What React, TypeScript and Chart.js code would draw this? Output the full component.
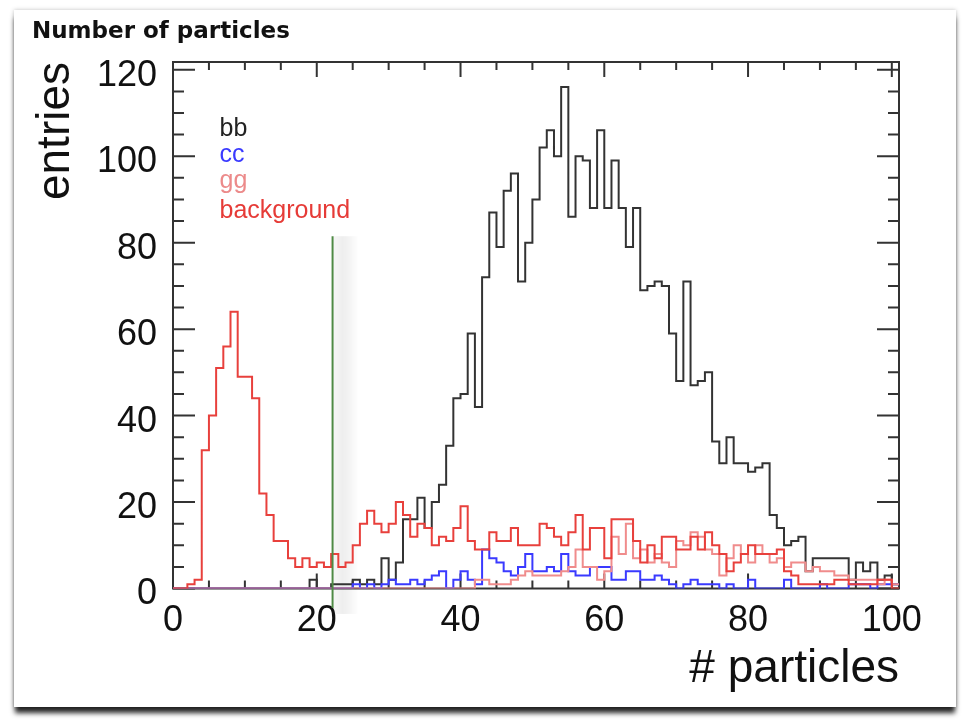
import React, { useEffect, useRef } from 'react';
import { Chart, registerables } from 'chart.js';

Chart.register(...registerables);

// ---- data (bins of width 1, low edges 0..100, axis 0..101) ----
const BIN_COUNT = 101;
const X_MIN = 0;
const X_MAX = 101;
const Y_MIN = 0;
const Y_MAX = 121.8;
const binLowEdges = Array.from({ length: BIN_COUNT }, (_, i) => X_MIN + i);

const X_TICK_LABELS = [0, 20, 40, 60, 80, 100];
const Y_TICK_LABELS = [0, 20, 40, 60, 80, 100, 120];
const MINOR_STEP = 5;

const bbValues = [
  0, 0, 0, 0, 0, 0, 0, 0, 0, 0,
  0, 0, 0, 0, 0, 0, 0, 0, 0, 2,
  0, 0, 1, 1, 1, 2, 1, 2, 1, 7,
  2, 6, 16, 16, 21, 14, 20, 24, 33, 44,
  45, 59, 42, 72, 87, 79, 92, 96, 71, 80,
  90, 102, 106, 100, 116, 86, 100, 99, 88, 106,
  88, 99, 88, 79, 88, 69, 70, 71, 70, 59,
  48, 71, 47, 48, 50, 34, 29, 35, 29, 29,
  27, 28, 29, 17, 14, 10, 11, 12, 4, 7,
  7, 7, 7, 7, 2, 6, 4, 6, 2, 3,
  1,
];

const ccValues = [
  0, 0, 0, 0, 0, 0, 0, 0, 0, 0,
  0, 0, 0, 0, 0, 0, 0, 0, 0, 0,
  0, 0, 0, 0, 0, 1, 0, 1, 0, 1,
  2, 1, 1, 2, 1, 2, 3, 4, 0, 2,
  4, 2, 1, 9, 7, 6, 4, 3, 5, 8,
  4, 4, 5, 4, 8, 4, 3, 3, 5, 5,
  5, 2, 2, 4, 4, 2, 2, 3, 2, 1,
  0, 1, 2, 1, 1, 1, 0, 1, 0, 0,
  2, 0, 0, 0, 0, 2, 0, 0, 0, 0,
  1, 0, 0, 0, 1, 1, 1, 0, 1, 1,
  1,
];

const ggValues = [
  0, 0, 0, 0, 0, 0, 0, 0, 0, 0,
  0, 0, 0, 0, 0, 0, 0, 0, 0, 0,
  0, 0, 0, 0, 0, 0, 0, 0, 0, 0,
  0, 0, 0, 0, 0, 0, 0, 0, 0, 0,
  0, 0, 2, 2, 1, 1, 1, 2, 3, 4,
  3, 3, 3, 3, 4, 5, 9, 5, 5, 2,
  4, 12, 8, 15, 7, 9, 6, 8, 6, 5,
  11, 10, 13, 12, 9, 8, 3, 7, 10, 8,
  6, 10, 8, 6, 7, 5, 6, 6, 4, 5,
  4, 4, 3, 3, 2, 2, 2, 2, 1, 2,
  1,
];

const backgroundValues = [
  0, 0, 1, 2, 32, 40, 51, 56, 64, 49,
  49, 44, 22, 17, 11, 11, 7, 5, 7, 5,
  6, 5, 8, 5, 6, 10, 15, 18, 15, 13,
  15, 20, 17, 12, 15, 14, 10, 12, 11, 14,
  19, 11, 9, 9, 13, 11, 11, 14, 10, 10,
  10, 15, 14, 12, 10, 13, 17, 9, 14, 14,
  7, 16, 16, 16, 11, 6, 10, 7, 12, 12,
  9, 9, 12, 9, 13, 10, 8, 4, 6, 8,
  10, 8, 8, 8, 9, 4, 3, 1, 1, 1,
  1, 1, 2, 2, 1, 1, 1, 1, 2, 2,
  0,
];

const cutX = 22.2;
const cutYRange = [-4.5, 81.5];

const seriesNames = ['bb', 'cc', 'gg', 'background'];
const seriesColors = ['#333333', '#3a3aff', '#f08c8c', '#e8403c'];
const legendTextColors = ['#222222', '#3a3aff', '#ec8a8a', '#e63b37'];

const SANS = '"Liberation Sans", Arial, Helvetica, sans-serif';

function histPoints(values: number[]) {
  const pts = binLowEdges.map((e, i) => ({ x: e, y: values[i] }));
  pts.push({ x: X_MAX, y: values[values.length - 1] });
  return pts;
}

const rootStylePlugin = {
  id: 'rootStyle',
  beforeDatasetsDraw(chart: any) {
    const { ctx, chartArea: a, scales } = chart;
    const xs = scales.x;
    const ys = scales.y;
    ctx.save();
    // soft shadow beside the cut line
    const gm = chart.getDatasetMeta(0);
    if (gm && gm.data && gm.data.length > 1) {
      const px = gm.data[0].x;
      const top = Math.min(gm.data[0].y, gm.data[1].y);
      const bottom = Math.max(gm.data[0].y, gm.data[1].y) + 6;
      const g = ctx.createLinearGradient(px, 0, px + 26, 0);
      g.addColorStop(0, 'rgba(0,0,0,0.03)');
      g.addColorStop(0.4, 'rgba(0,0,0,0.065)');
      g.addColorStop(0.75, 'rgba(0,0,0,0.03)');
      g.addColorStop(1, 'rgba(0,0,0,0)');
      ctx.fillStyle = g;
      ctx.fillRect(px + 1, top, 26, bottom - top);
    }
    ctx.strokeStyle = '#333333';
    ctx.lineWidth = 2;
    ctx.strokeRect(a.left, a.top, a.right - a.left, a.bottom - a.top);
    ctx.beginPath();
    for (let v = Y_TICK_LABELS[0]; v <= Y_MAX; v += MINOR_STEP) {
      const py = ys.getPixelForValue(v);
      const len = Y_TICK_LABELS.includes(v) ? 22 : 11;
      ctx.moveTo(a.left, py);
      ctx.lineTo(a.left + len, py);
      ctx.moveTo(a.right, py);
      ctx.lineTo(a.right - len, py);
    }
    for (let v = X_TICK_LABELS[0]; v <= X_MAX; v += MINOR_STEP) {
      const px = xs.getPixelForValue(v);
      const len = X_TICK_LABELS.includes(v) ? 15 : 8;
      ctx.moveTo(px, a.bottom);
      ctx.lineTo(px, a.bottom - len);
      ctx.moveTo(px, a.top);
      ctx.lineTo(px, a.top + len);
    }
    ctx.stroke();
    ctx.restore();
  },
  afterDraw(chart: any) {
    const { ctx } = chart;
    ctx.save();
    ctx.textBaseline = 'alphabetic';
    ctx.textAlign = 'left';
    ctx.fillStyle = '#111111';
    ctx.font = 'bold 23px "DejaVu Sans", sans-serif';
    ctx.fillText('Number of particles', 32, 38);
    ctx.font = `25px ${SANS}`;
    const baselines = [136, 161.5, 188, 218];
    seriesNames.forEach((name, i) => {
      ctx.fillStyle = legendTextColors[i];
      ctx.fillText(name, 219.5, baselines[i]);
    });
    ctx.restore();
  },
};

export default function App() {
  const canvasRef = useRef<HTMLCanvasElement | null>(null);

  useEffect(() => {
    const canvas = canvasRef.current;
    if (!canvas) return;
    const hist = (i: number, values: number[]) => ({
      label: seriesNames[i],
      data: histPoints(values),
      borderColor: seriesColors[i],
      backgroundColor: seriesColors[i],
      borderWidth: 2,
      pointRadius: 0,
      stepped: 'before' as const,
      fill: false,
      borderJoinStyle: 'miter' as const,
    });
    const chart = new Chart(canvas, {
      type: 'line',
      data: {
        datasets: [
          {
            label: 'cut',
            data: [
              { x: cutX, y: cutYRange[0] },
              { x: cutX, y: cutYRange[1] },
            ],
            borderColor: '#4f8a45',
            borderWidth: 2,
            pointRadius: 0,
            fill: false,
            clip: false,
          } as any,
          hist(3, backgroundValues),
          hist(2, ggValues),
          hist(1, ccValues),
          hist(0, bbValues),
        ],
      },
      options: {
        responsive: false,
        animation: false,
        devicePixelRatio: 1,
        layout: { padding: { left: 20, right: 63, top: 62, bottom: 19.5 } },
        plugins: {
          legend: { display: false },
          tooltip: { enabled: false },
          title: { display: false },
        },
        scales: {
          x: {
            type: 'linear',
            min: X_MIN,
            max: X_MAX,
            grid: { display: false, drawTicks: false },
            border: { display: false },
            afterBuildTicks: (s: any) => {
              s.ticks = X_TICK_LABELS.map((v) => ({ value: v }));
            },
            afterFit: (s: any) => {
              s.height = 112;
            },
            ticks: {
              font: { family: SANS, size: 36 },
              color: '#111111',
              padding: 11,
              maxRotation: 0,
              autoSkip: false,
            },
            title: {
              display: true,
              text: '# particles',
              align: 'end',
              color: '#111111',
              font: { family: SANS, size: 46 },
              padding: { top: 0, bottom: 4 },
            },
          },
          y: {
            type: 'linear',
            min: Y_MIN,
            max: Y_MAX,
            grid: { display: false, drawTicks: false },
            border: { display: false },
            afterBuildTicks: (s: any) => {
              s.ticks = Y_TICK_LABELS.map((v) => ({ value: v }));
            },
            afterFit: (s: any) => {
              s.width = 153;
            },
            ticks: {
              font: { family: SANS, size: 36 },
              color: '#111111',
              padding: 16,
              labelOffset: 6,
              autoSkip: false,
            },
            title: {
              display: true,
              text: 'entries',
              align: 'end',
              color: '#111111',
              font: { family: SANS, size: 46 },
              padding: { top: 8.4, bottom: 0 },
            },
          },
        },
      } as any,
      plugins: [rootStylePlugin],
    });
    return () => chart.destroy();
  }, []);

  return (
    <div
      style={{
        position: 'fixed',
        left: 0,
        top: 0,
        width: 962,
        height: 720,
        background: '#ffffff',
        overflow: 'hidden',
      }}
    >
      <div
        style={{
          position: 'absolute',
          left: 14,
          top: 10,
          width: 942,
          height: 697,
          background: '#ffffff',
          boxShadow: '0 7px 5px -1px rgba(0,0,0,0.85), 0 0 4px rgba(0,0,0,0.25)',
        }}
      />
      <canvas
        ref={canvasRef}
        width={962}
        height={720}
        style={{ position: 'absolute', left: 0, top: 0, width: 962, height: 720 }}
      />
    </div>
  );
}
